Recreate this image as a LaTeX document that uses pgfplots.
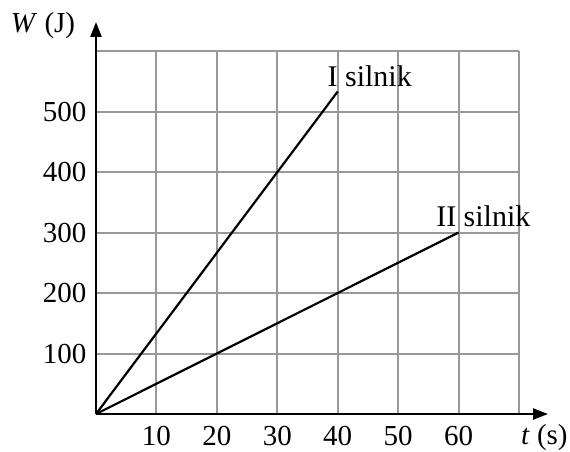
\documentclass[border=0pt]{standalone}
\usepackage{fontspec}
\setmainfont{Liberation Serif}
\usepackage{pgfplots}
\pgfplotsset{compat=1.18}
\usetikzlibrary{arrows.meta}
\begin{document}
\begin{tikzpicture}
\useasboundingbox (0,0) rectangle (570pt,451pt);
\begin{axis}[
 at={(96pt,37pt)}, anchor=south west,
 scale only axis, width=423pt, height=363pt,
 xmin=0,xmax=70,ymin=0,ymax=600,
 axis line style={draw=none},
 tick style={draw=none},
 xtick={10,20,...,70}, xticklabels={10,20,30,40,50,60,{}},
 ytick={100,200,...,600}, yticklabels={100,200,300,400,500,{}},
 grid=major, grid style={color=black!40, line width=2pt},
 ticklabel style={font=\fontsize{29}{33}\selectfont},
 xticklabel style={anchor=base, yshift=-31pt},
 yticklabel style={xshift=-6pt},
 /pgf/number format/assume math mode=true,
 clip=false,
]
\draw[line width=2.4pt, -{Triangle[length=15pt,width=11pt]}] (axis cs:0,0) -- (axis cs:74.8,0);
\draw[line width=2.4pt, -{Triangle[length=15pt,width=11pt]}] (axis cs:0,0) -- (axis cs:0,648);
\addplot[black, line width=2.2pt] coordinates {(0,0) (40,533)};
\addplot[black, line width=2.2pt] coordinates {(0,0) (60,300)};
\node[anchor=base, font=\fontsize{30}{34}\selectfont] at (axis cs:45.3,542) {I silnik};
\node[anchor=base, font=\fontsize{30}{34}\selectfont] at (axis cs:64.1,310) {II silnik};
\node[anchor=base, font=\fontsize{29}{33}\selectfont] at (axis cs:74.2,-51.2) {\textit{t} (s)};
\node[anchor=base, font=\fontsize{29}{33}\selectfont] at (axis cs:-8.77,629.8) {\textit{W} (J)};
\end{axis}
\end{tikzpicture}
\end{document}
